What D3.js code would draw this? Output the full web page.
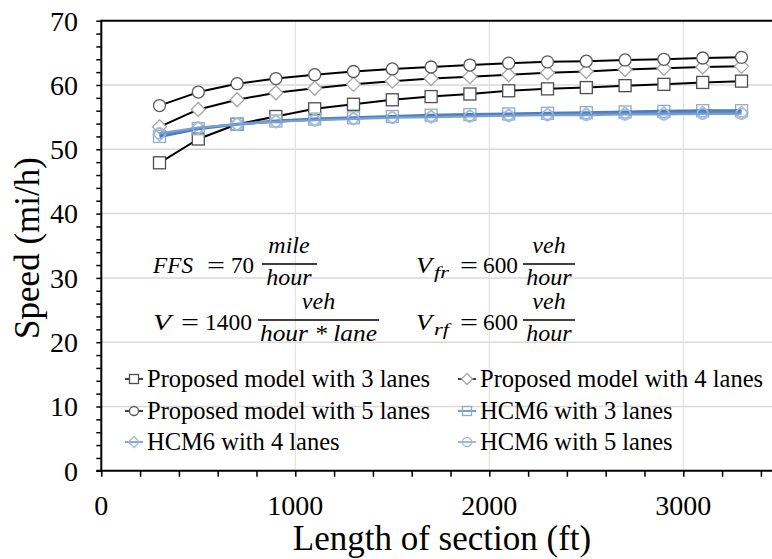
<!DOCTYPE html>
<html><head><meta charset="utf-8">
<script src="https://cdn.jsdelivr.net/npm/d3@7"></script>
<style>
body{margin:0;background:#fff}
svg{display:block}
svg text{font-family:"Liberation Serif" !important}
</style>
</head><body>
<script>
// ---- data ----
const lengths = [300,500,700,900,1100,1300,1500,1700,1900,2100,2300,2500,2700,2900,3100,3300];
const prop3 = [47.9,51.6,53.9,55.1,56.3,57.0,57.7,58.2,58.6,59.1,59.4,59.6,59.9,60.1,60.4,60.6];
const prop4 = [53.5,56.2,57.7,58.8,59.5,60.1,60.6,61.0,61.3,61.6,61.9,62.1,62.4,62.6,62.8,62.9];
const prop5 = [56.8,58.9,60.2,61.0,61.6,62.1,62.5,62.8,63.1,63.4,63.6,63.7,63.9,64.0,64.2,64.3];
const hcm3  = [52.0,53.2,53.9,54.4,54.7,54.9,55.1,55.3,55.4,55.5,55.6,55.7,55.8,55.9,56.0,56.0];
const hcm4  = [52.3,53.3,53.9,54.3,54.6,54.8,55.0,55.1,55.2,55.3,55.4,55.5,55.6,55.6,55.7,55.7];
const hcm5  = [52.5,53.4,53.9,54.3,54.5,54.7,54.9,55.0,55.1,55.2,55.3,55.3,55.4,55.4,55.5,55.5];
const seriesNames = ["Proposed model with 3 lanes","Proposed model with 4 lanes","Proposed model with 5 lanes",
                     "HCM6 with 3 lanes","HCM6 with 4 lanes","HCM6 with 5 lanes"];
const xTicks = [0,1000,2000,3000];
const yTicks = [0,10,20,30,40,50,60,70];
const xLabel = "Length of section (ft)";
const yLabel = "Speed (mi/h)";

// ---- styles ----
const styles = [
  {sym:"square",  line:"#000", lw:2, mStroke:"#4d4d4d", mFill:"#fff", size:12},
  {sym:"diamond", line:"#000", lw:2, mStroke:"#a6a6a6", mFill:"#fff", size:12},
  {sym:"circle",  line:"#000", lw:2, mStroke:"#595959", mFill:"#fff", size:12},
  {sym:"square",  line:"#4a7ebb", lw:3, mStroke:"#93abc9", mFill:"none", size:12},
  {sym:"diamond", line:"#5d8bc6", lw:2.2, mStroke:"#a3bbd9", mFill:"none", size:11},
  {sym:"circle",  line:"#7aa0d4", lw:2, mStroke:"#a3bbd9", mFill:"none", size:11}
];
const seriesVals = [prop3, prop4, prop5, hcm3, hcm4, hcm5];

const W = 772, H = 559;
const svg = d3.select("body").append("svg").attr("width", W).attr("height", H)
  .attr("font-family", "Liberation Serif");
const x = d3.scaleLinear().domain([0,3500]).range([101.3, 780.3]);
const y = d3.scaleLinear().domain([0,70]).range([470.8, 20.7]);

// gridlines
svg.append("g").selectAll("line").data(yTicks.filter(v=>v>0&&v<70)).join("line")
  .attr("x1", x(0)).attr("x2", W).attr("y1", d=>y(d)).attr("y2", d=>y(d))
  .attr("stroke", "#d9d9d9").attr("stroke-width", 1.5);
svg.append("g").selectAll("line").data(xTicks.filter(v=>v>0)).join("line")
  .attr("x1", d=>x(d)).attr("x2", d=>x(d)).attr("y1", y(70)).attr("y2", y(0))
  .attr("stroke", "#dedede").attr("stroke-width", 1);

// top border
svg.append("line").attr("x1", x(0)).attr("x2", W).attr("y1", y(70)).attr("y2", y(70))
  .attr("stroke", "#000").attr("stroke-width", 2);

// axes (ticks only)
const yAxis = d3.axisLeft(y).tickValues(d3.range(0,71,2)).tickSize(5).tickFormat("");
const gy = svg.append("g").attr("transform", `translate(${x(0)},0)`).call(yAxis);
const xAxis = d3.axisBottom(x).tickValues(d3.range(0,3501,200)).tickSize(6).tickFormat("");
const gx = svg.append("g").attr("transform", `translate(0,${y(0)})`).call(xAxis);
[gx, gy].forEach(g => {
  g.select(".domain").remove();
  g.selectAll(".tick text").remove();
  g.selectAll(".tick line").attr("stroke", "#000").attr("stroke-width", 1.5);
});
svg.append("line").attr("x1", x(0)).attr("x2", x(0)).attr("y1", y(70)-1).attr("y2", y(0)+1)
  .attr("stroke", "#000").attr("stroke-width", 2);
svg.append("line").attr("x1", x(0)-5).attr("x2", W).attr("y1", y(0)).attr("y2", y(0))
  .attr("stroke", "#000").attr("stroke-width", 2);

const tg = svg.append("g").attr("font-family", "Liberation Serif");

// tick labels
tg.append("g").selectAll("text").data(yTicks).join("text")
  .attr("x", 78).attr("y", d=>y(d)).attr("dy", "0.35em").attr("text-anchor", "end")
  .attr("font-size", 28).text(d=>d);
tg.append("g").selectAll("text").data(xTicks).join("text")
  .attr("x", d=>x(d)).attr("y", 515).attr("text-anchor", "middle")
  .attr("font-size", 28).text(d=>d);

// axis titles
tg.append("text").attr("x", 442).attr("y", 550).attr("text-anchor","middle")
  .attr("font-size", 35).text(xLabel);
tg.append("text").attr("transform", "translate(39,248) rotate(-90)").attr("text-anchor","middle")
  .attr("font-size", 35).text(yLabel);

// symbol helper
function drawSym(g, st, cx, cy, size) {
  const s = size;
  if (st.sym === "square") {
    g.append("rect").attr("x", cx-s/2).attr("y", cy-s/2).attr("width", s).attr("height", s)
      .attr("fill", st.mFill).attr("stroke", st.mStroke).attr("stroke-width", 1.3);
  } else if (st.sym === "circle") {
    g.append("circle").attr("cx", cx).attr("cy", cy).attr("r", s/2)
      .attr("fill", st.mFill).attr("stroke", st.mStroke).attr("stroke-width", 1.3);
  } else {
    const h = s/2 + 1;
    g.append("path").attr("d", `M${cx},${cy-h}L${cx+h},${cy}L${cx},${cy+h}L${cx-h},${cy}Z`)
      .attr("fill", st.mFill).attr("stroke", st.mStroke).attr("stroke-width", 1.3);
  }
}

// series
const line = d3.line().x(d=>x(d[0])).y(d=>y(d[1]));
seriesVals.forEach((vals, i) => {
  const st = styles[i];
  const pts = lengths.map((L, k) => [L, vals[k]]);
  const g = svg.append("g");
  if (i >= 3) pts.forEach(p => drawSym(g, st, x(p[0]), y(p[1]), st.size));
  g.append("path").attr("d", line(pts)).attr("fill", "none")
    .attr("stroke", st.line).attr("stroke-width", st.lw).attr("stroke-linejoin", "round");
  if (i < 3) pts.forEach(p => drawSym(g, st, x(p[0]), y(p[1]), st.size));
});

// legend
const legPos = [[134,379],[467,379],[134,411],[467,411],[134,442],[467,442]];
seriesNames.forEach((name, i) => {
  const st = styles[i];
  const [cx, cy] = legPos[i];
  const g = svg.append("g");
  g.append("line").attr("x1", cx-9).attr("x2", cx+9).attr("y1", cy).attr("y2", cy)
    .attr("stroke", st.line).attr("stroke-width", 1.5);
  drawSym(g, st, cx, cy, 9);
  g.append("text").attr("x", cx+13).attr("y", cy+8).attr("font-size", 24.5)
    .attr("font-family", "Liberation Serif").text(name);
});

// math annotation
function mt(txt, x0, yb, w, opts={}) {
  const t = svg.append("text").attr("x", x0).attr("y", yb)
    .attr("font-family", "Liberation Serif")
    .attr("font-size", opts.size || 23)
    .attr("font-style", opts.italic ? "italic" : "normal").text(txt);
  if (opts.anchor) t.attr("text-anchor", opts.anchor);
  if (w) t.attr("textLength", w).attr("lengthAdjust", "spacingAndGlyphs");
  return t;
}
function frac(num, den, xc, x1, x2, yBar, dw) {
  svg.append("line").attr("x1", x1).attr("x2", x2).attr("y1", yBar).attr("y2", yBar)
    .attr("stroke", "#000").attr("stroke-width", 1.3);
  mt(num, xc, yBar-11, null, {italic:true, anchor:"middle", size:24});
  mt(den, xc, yBar+21, dw || null, {italic:true, anchor:"middle", size:24});
}
// row 1
mt("FFS", 153, 273, 40, {italic:true});
mt("=", 207, 273, 18);
mt("70", 231, 273, 23);
frac("mile", "hour", 289, 262, 317, 264);
mt("V", 416, 273, 16, {italic:true});
mt("fr", 434, 278, 15, {italic:true, size:17});
mt("=", 460, 273, 18);
mt("600", 483, 273, 35);
frac("veh", "hour", 549, 523, 575, 264);
// row 2
mt("V", 153, 330, 18, {italic:true});
mt("=", 181, 330, 18);
mt("1400", 205, 330, 47);
frac("veh", "hour * lane", 318.5, 258, 379, 320, 117);
mt("V", 416, 330, 16, {italic:true});
mt("rf", 434, 335, 15, {italic:true, size:17});
mt("=", 460, 330, 18);
mt("600", 483, 330, 35);
frac("veh", "hour", 549, 523, 575, 320);
</script>
</body></html>
